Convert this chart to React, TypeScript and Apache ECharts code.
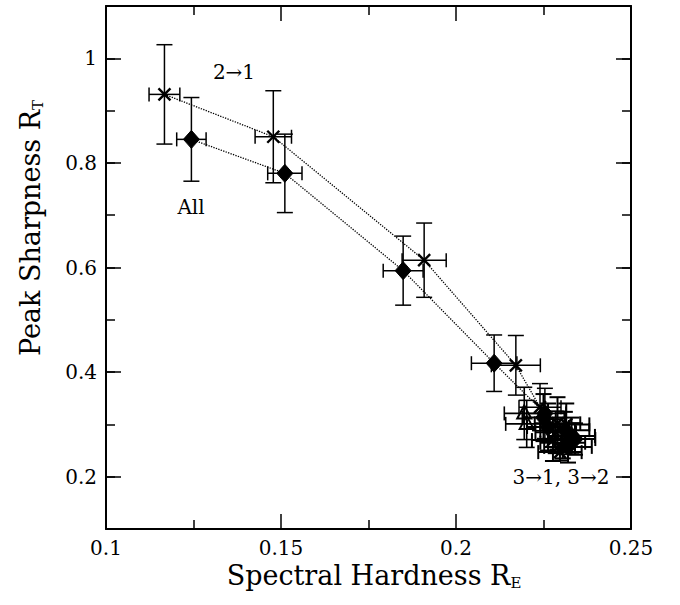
import React, { useEffect, useRef } from "react";
import * as echarts from "echarts";

// "All" transitions (filled diamonds)
const allX = [0.1244, 0.1511, 0.1849, 0.2109, 0.2254];
const allY = [0.845, 0.780, 0.594, 0.417, 0.321];
const allXErr = [0.0042, 0.0049, 0.0057, 0.0065, 0.006];
const allYErr = [0.08, 0.075, 0.066, 0.054, 0.048];

// "2→1" transitions (crosses)
const t21X = [0.1167, 0.1478, 0.1909, 0.2171, 0.224];
const t21Y = [0.931, 0.85, 0.614, 0.413, 0.333];
const t21XErr = [0.0044, 0.0052, 0.0063, 0.007, 0.006];
const t21YErr = [0.095, 0.088, 0.071, 0.057, 0.045];

// "3→1" transitions (open triangles)
const t31X = [0.2195, 0.2202];
const t31Y = [0.321, 0.301];
const t31XErr = [0.0057, 0.006];
const t31YErr = [0.05, 0.045];

// "3→2" cluster (filled diamonds / crosses)
const t32X = [0.2263, 0.229, 0.2311, 0.2277, 0.232, 0.2297, 0.233, 0.2285, 0.225, 0.2305, 0.234, 0.2315];
const t32Y = [0.295, 0.302, 0.289, 0.27, 0.257, 0.247, 0.278, 0.285, 0.313, 0.265, 0.272, 0.3];
const t32XErr = [0.006, 0.0065, 0.007, 0.006, 0.0068, 0.0062, 0.0067, 0.0058, 0.006, 0.0064, 0.0058, 0.0066];
const t32YErr = [0.045, 0.05, 0.035, 0.04, 0.03, 0.016, 0.035, 0.04, 0.045, 0.03, 0.03, 0.04];

const FONT = "DejaVu Serif";

function rows(xs: number[], ys: number[], xe: number[], ye: number[]) {
  return xs.map((x, i) => [x, ys[i], x - xe[i], x + xe[i], ys[i] - ye[i], ys[i] + ye[i]]);
}

function makeRender(kind: string, lw: number) {
  return (params: any, api: any) => {
    const x = api.value(0);
    const y = api.value(1);
    const c = api.coord([x, y]);
    const l = api.coord([api.value(2), y]);
    const r = api.coord([api.value(3), y]);
    const lo = api.coord([x, api.value(4)]);
    const hi = api.coord([x, api.value(5)]);
    const ls = { stroke: "#000", lineWidth: lw };
    const capW = 8;
    const capH = 7;
    const children: any[] = [
      { type: "line", shape: { x1: l[0], y1: l[1], x2: r[0], y2: r[1] }, style: ls },
      { type: "line", shape: { x1: l[0], y1: l[1] - capH, x2: l[0], y2: l[1] + capH }, style: ls },
      { type: "line", shape: { x1: r[0], y1: r[1] - capH, x2: r[0], y2: r[1] + capH }, style: ls },
      { type: "line", shape: { x1: lo[0], y1: lo[1], x2: hi[0], y2: hi[1] }, style: ls },
      { type: "line", shape: { x1: lo[0] - capW, y1: lo[1], x2: lo[0] + capW, y2: lo[1] }, style: ls },
      { type: "line", shape: { x1: hi[0] - capW, y1: hi[1], x2: hi[0] + capW, y2: hi[1] }, style: ls },
    ];
    const k = kind === "mix" ? (params.dataIndex % 2 === 0 ? "diamond" : "cross") : kind;
    if (k === "diamond") {
      children.push({
        type: "polygon",
        shape: { points: [[c[0], c[1] - 9], [c[0] + 8, c[1]], [c[0], c[1] + 9], [c[0] - 8, c[1]]] },
        style: { fill: "#000", stroke: "#000", lineWidth: 1 },
      });
    } else if (k === "cross") {
      const s = 6;
      const cs = { stroke: "#000", lineWidth: 2.4 };
      children.push({ type: "line", shape: { x1: c[0] - s, y1: c[1] - s, x2: c[0] + s, y2: c[1] + s }, style: cs });
      children.push({ type: "line", shape: { x1: c[0] - s, y1: c[1] + s, x2: c[0] + s, y2: c[1] - s }, style: cs });
    } else if (k === "triangle") {
      children.push({
        type: "polygon",
        shape: { points: [[c[0], c[1] - 8], [c[0] + 7, c[1] + 5], [c[0] - 7, c[1] + 5]] },
        style: { fill: "none", stroke: "#000", lineWidth: 2 },
      });
    }
    return { type: "group", children };
  };
}

export default function App() {
  const ref = useRef<HTMLDivElement>(null);
  useEffect(() => {
    document.body.style.margin = "0";
    const chart = echarts.init(ref.current!, null, { renderer: "svg" });
    const axisLine = { show: true, lineStyle: { color: "#000", width: 2 } };
    const tickStyle = { color: "#000", width: 1.5 };
    const xBase = {
      type: "value",
      min: 0.1,
      max: 0.25,
      interval: 0.05,
      axisLine,
      axisTick: { show: true, inside: true, length: 15, lineStyle: tickStyle },
      minorTick: { show: true, splitNumber: 2, length: 9, lineStyle: tickStyle },
      splitLine: { show: false },
      minorSplitLine: { show: false },
    };
    const yMajor = {
      type: "value",
      min: 0.1,
      max: 1.1,
      splitNumber: 5,
      minInterval: 0.2,
      maxInterval: 0.2,
      axisLine,
      axisTick: { show: true, inside: true, length: 15, lineStyle: tickStyle },
      splitLine: { show: false },
    };
    const yMinor = {
      type: "value",
      min: 0.1,
      max: 1.1,
      interval: 0.1,
      axisLine: { show: false },
      axisTick: { show: true, inside: true, length: 9, lineStyle: tickStyle },
      axisLabel: { show: false },
      splitLine: { show: false },
    };
    const titleRich = {
      a: { fontFamily: FONT, fontSize: 27, lineHeight: 30, fill: "#000" },
      b: { fontFamily: FONT, fontSize: 15, lineHeight: 6, verticalAlign: "bottom", fill: "#000" },
    };
    const option: any = {
      animation: false,
      backgroundColor: "#fff",
      grid: { left: 106, right: 49, top: 6, bottom: 76 },
      xAxis: [
        {
          ...xBase,
          position: "bottom",
          axisLabel: { show: true, color: "#000", fontFamily: FONT, fontSize: 20, margin: 9 },
        },
        { ...xBase, position: "top", axisLabel: { show: false } },
      ],
      yAxis: [
        {
          ...yMajor,
          position: "left",
          axisLabel: {
            show: true,
            color: "#000",
            fontFamily: FONT,
            fontSize: 20,
            margin: 9,
            showMinLabel: false,
            showMaxLabel: false,
          },
        },
        { ...yMinor, position: "left" },
        { ...yMajor, position: "right", axisLabel: { show: false } },
        { ...yMinor, position: "right" },
      ],
      series: [
        {
          type: "line",
          data: allX.map((x, i) => [x, allY[i]]),
          symbol: "none",
          lineStyle: { color: "#000", width: 1.3, type: "dotted" },
          z: 1,
        },
        {
          type: "line",
          data: t21X.map((x, i) => [x, t21Y[i]]),
          symbol: "none",
          lineStyle: { color: "#000", width: 1.3, type: "dotted" },
          z: 1,
        },
        { type: "custom", renderItem: makeRender("mix", 2), data: rows(t32X, t32Y, t32XErr, t32YErr), encode: { x: 0, y: 1 }, z: 2 },
        { type: "custom", renderItem: makeRender("triangle", 1.6), data: rows(t31X, t31Y, t31XErr, t31YErr), encode: { x: 0, y: 1 }, z: 3 },
        { type: "custom", renderItem: makeRender("diamond", 1.5), data: rows(allX, allY, allXErr, allYErr), encode: { x: 0, y: 1 }, z: 4 },
        { type: "custom", renderItem: makeRender("cross", 1.5), data: rows(t21X, t21Y, t21XErr, t21YErr), encode: { x: 0, y: 1 }, z: 4 },
      ],
      graphic: [
        {
          type: "text",
          x: 374,
          y: 575,
          style: {
            text: "{a|Spectral Hardness R}{b|E}",
            align: "center",
            verticalAlign: "middle",
            fill: "#000",
            rich: titleRich,
          },
        },
        {
          type: "text",
          x: 30,
          y: 228,
          rotation: Math.PI / 2,
          style: {
            text: "{a|Peak Sharpness R}{b|T}",
            align: "center",
            verticalAlign: "middle",
            fill: "#000",
            rich: titleRich,
          },
        },
        {
          type: "text",
          x: 234,
          y: 72,
          style: { text: "2→1", fontFamily: FONT, fontSize: 20, fill: "#000", align: "center", verticalAlign: "middle" },
        },
        {
          type: "text",
          x: 191,
          y: 207,
          style: { text: "All", fontFamily: FONT, fontSize: 20, fill: "#000", align: "center", verticalAlign: "middle" },
        },
        {
          type: "text",
          x: 561,
          y: 477,
          style: { text: "3→1, 3→2", fontFamily: FONT, fontSize: 20, fill: "#000", align: "center", verticalAlign: "middle" },
        },
      ],
    };
    chart.setOption(option);
    return () => chart.dispose();
  }, []);
  return <div ref={ref} style={{ width: 680, height: 605 }} />;
}
